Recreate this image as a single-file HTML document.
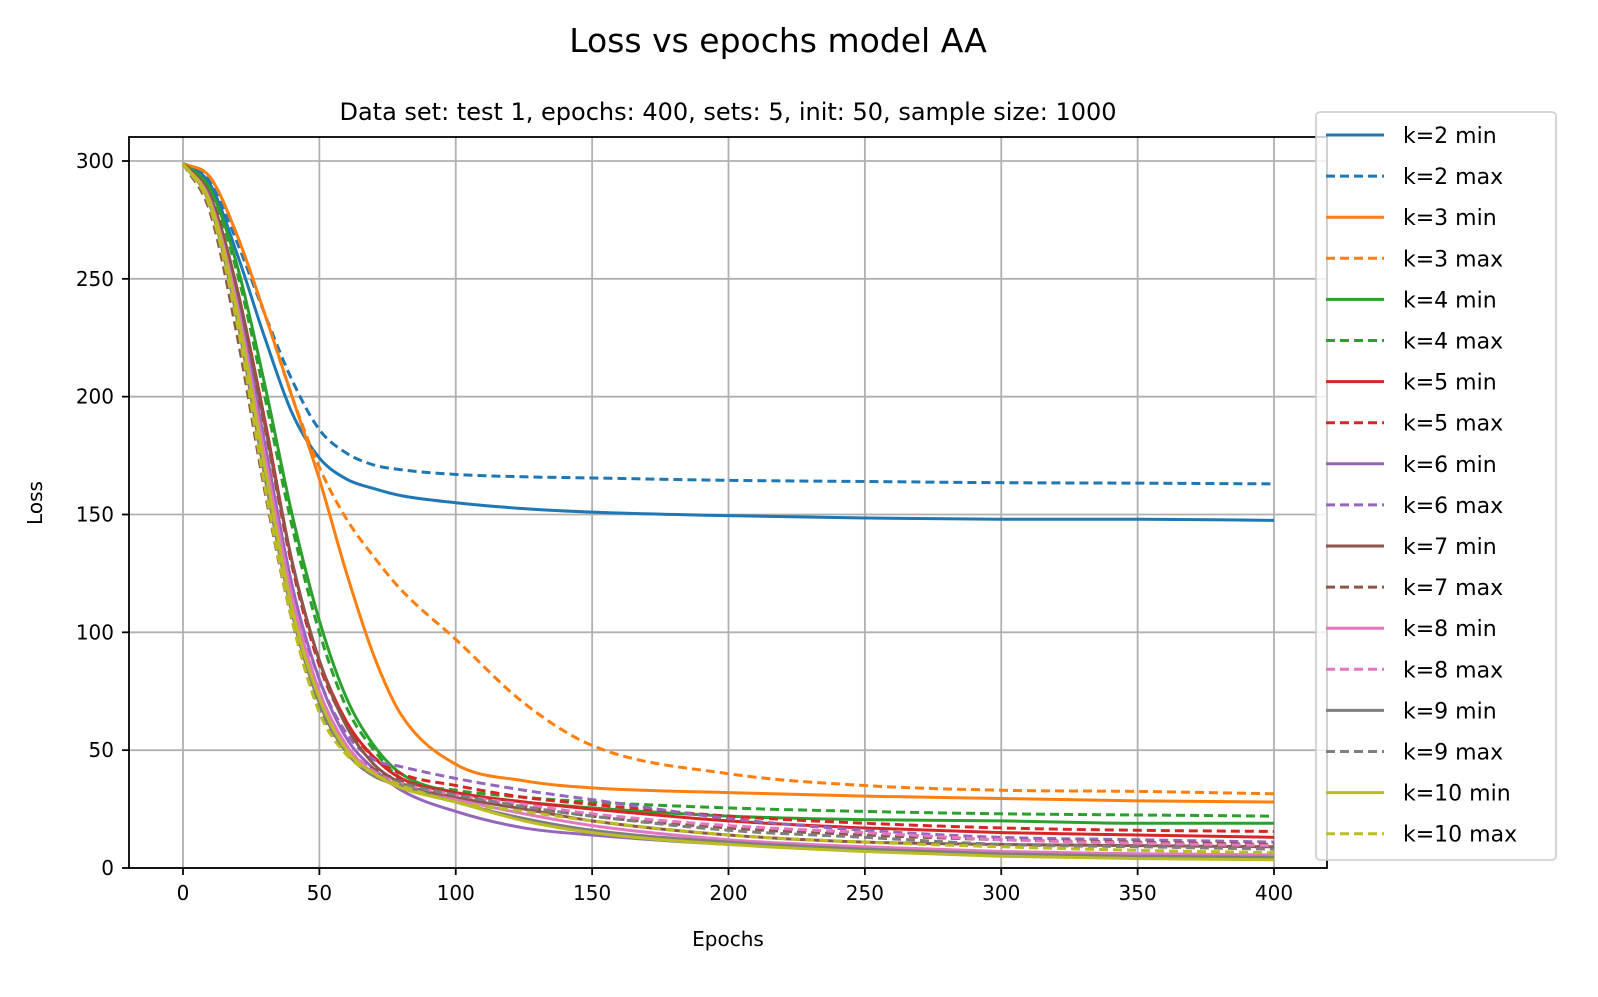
<!DOCTYPE html>
<html><head><meta charset="utf-8"><style>
body{margin:0;background:#fff;}
svg text{font-family:"DejaVu Sans","Liberation Sans",sans-serif;fill:#000;}
</style></head><body>
<svg id="chart" width="1598" height="992" viewBox="0 0 1598 992" xmlns="http://www.w3.org/2000/svg">
<rect width="1598" height="992" fill="#fff"/>
<text x="778" y="52" font-size="33" text-anchor="middle">Loss vs epochs model AA</text>
<text x="728" y="120" font-size="24" text-anchor="middle">Data set: test 1, epochs: 400, sets: 5, init: 50, sample size: 1000</text>
<g id="grid"></g>
<g id="series"></g>
<rect x="129" y="137" width="1198" height="731" fill="none" stroke="#000" stroke-width="1.8"/>
<g id="ticks"></g>
<text x="728" y="946" font-size="20" text-anchor="middle">Epochs</text>
<text x="42" y="503" font-size="20" text-anchor="middle" transform="rotate(-90 42 503)">Loss</text>
<g id="legend"></g>
</svg>
<script>
const epochs=[0,10,20,30,40,50,60,70,80,100,125,150,200,250,300,350,400];
const xTicks=[0,50,100,150,200,250,300,350,400];
const yTicks=[0,50,100,150,200,250,300];
const labels=["k=2 min","k=2 max","k=3 min","k=3 max","k=4 min","k=4 max","k=5 min","k=5 max","k=6 min","k=6 max","k=7 min","k=7 max","k=8 min","k=8 max","k=9 min","k=9 max","k=10 min","k=10 max"];
const colors=["#1f77b4","#ff7f0e","#2ca02c","#d62728","#9467bd","#8c564b","#e377c2","#7f7f7f","#bcbd22"];
const k2min=[299,290,260,225,193,174,165,161,158,155,152.5,151,149.5,148.5,148,148,147.5];
const k2max=[299,292,265,235,207,186,176,171,169,167,166,165.5,164.5,164,163.5,163.3,163];
const k3min=[299,293,268,235,200,165,125,90,65,44,37,34,32,30.5,29.5,28.5,28];
const k3max=[299,293,268,235,200,170,148,132,118,97,70,52,40,35,33,32.5,31.5];
const k4min=[299,288,255,205,150,105,72,52,40,32,28,25.5,22,20.5,20,19,19];
const k4max=[299,287,252,200,145,100,68,50,38,33,30,28,25.5,24,23,22.5,22];
const k5min=[299,285,245,190,130,88,62,47,38,32,28,25,20,17,15,14,13];
const k5max=[299,284,243,187,128,86,61,47,40,35,30,27,22,19,17,16,15.5];
const k6min=[299,283,240,180,120,80,55,42,33,24,17,14,10,8,6.5,6,5.5];
const k6max=[299,282,238,178,118,80,57,46,43,38,33,29,21,16,13,12,11];
const k7min=[299,285,245,188,130,88,60,44,36,30,25,20,14,11,10,9.5,9];
const k7max=[299,278,225,160,105,68,50,42,37,31,26,22,17,14,12,11,10];
const k8min=[299,283,238,175,115,75,52,40,34,29,23,18,12,9,7,6,5.5];
const k8max=[299,281,234,170,112,73,52,41,36,31,27,23,18,15,12,10.5,9.5];
const k9min=[299,281,232,166,108,70,49,39,35,28,21,16,11,8,6,5,4.5];
const k9max=[299,280,230,164,106,68,49,40,36,31,26,22,16,13,10,9,8];
const k10min=[299,282,235,170,110,72,50,40,34,28,20,15,10,7,5,4,3.5];
const k10max=[299,280,230,162,105,66,48,40,35,28,24,20,14,11,9,7.5,6.5];
const allSeries=[k2min,k2max,k3min,k3max,k4min,k4max,k5min,k5max,k6min,k6max,k7min,k7max,k8min,k8max,k9min,k9max,k10min,k10max];

const NS="http://www.w3.org/2000/svg";
const X=v=>183+v*(1274-183)/400;
const Y=v=>868-v*(868-161)/300;
function el(t,a,p){const e=document.createElementNS(NS,t);for(const k in a)e.setAttribute(k,a[k]);p.appendChild(e);return e;}
const grid=document.getElementById('grid'),ticks=document.getElementById('ticks');
xTicks.forEach(t=>{
  const g=el('line',{x1:X(t),x2:X(t),y1:137,y2:868,stroke:'#b0b0b0','stroke-width':1.8},grid);
  
  
  const tk=el('line',{x1:X(t),x2:X(t),y1:868,y2:875,stroke:'#000','stroke-width':1.8},ticks);
  
  
  const tx=el('text',{x:X(t),y:900,'font-size':20,'text-anchor':'middle'},ticks);tx.textContent=t;
  
  
});
yTicks.forEach(t=>{
  const g=el('line',{x1:129,x2:1327,y1:Y(t),y2:Y(t),stroke:'#b0b0b0','stroke-width':1.8},grid);
  
  
  const tk=el('line',{x1:122,x2:129,y1:Y(t),y2:Y(t),stroke:'#000','stroke-width':1.8},ticks);
  
  
  const tx=el('text',{x:114,y:Y(t)+7,'font-size':20,'text-anchor':'end'},ticks);tx.textContent=t;
  
  
});
function monoPath(xs,ys){
  const n=xs.length,d=[],m=[];
  for(let i=0;i<n-1;i++)d.push((ys[i+1]-ys[i])/(xs[i+1]-xs[i]));
  m[0]=d[0];m[n-1]=d[n-2];
  for(let i=1;i<n-1;i++){m[i]=(d[i-1]*d[i]<=0)?0:(d[i-1]+d[i])/2;}
  for(let i=0;i<n-1;i++){if(d[i]===0){m[i]=m[i+1]=0;continue;}const a=m[i]/d[i],b=m[i+1]/d[i],s=a*a+b*b;if(s>9){const t=3/Math.sqrt(s);m[i]=t*a*d[i];m[i+1]=t*b*d[i];}}
  let p='M'+X(xs[0])+','+Y(ys[0]);
  for(let i=0;i<n-1;i++){const h=xs[i+1]-xs[i];
    p+=' C'+X(xs[i]+h/3)+','+Y(ys[i]+m[i]*h/3)+' '+X(xs[i+1]-h/3)+','+Y(ys[i+1]-m[i+1]*h/3)+' '+X(xs[i+1])+','+Y(ys[i+1]);}
  return p;
}
const sg=document.getElementById('series'),lg=document.getElementById('legend');
allSeries.forEach((s,i)=>{
  const c=colors[Math.floor(i/2)],dash=i%2?'9,5':'none';
  const p=el('path',{d:monoPath(epochs,s),fill:'none',stroke:c,'stroke-width':3,'stroke-dasharray':dash},sg);
  
  
});
const box=el('rect',{x:1316,y:112,width:240,height:748,rx:4,fill:'#fff','fill-opacity':0.8,stroke:'#ccc','stroke-width':1.6},lg);


labels.forEach((l,i)=>{
  const y=135+i*41.1,c=colors[Math.floor(i/2)];
  const ln=el('line',{x1:1326,x2:1384,y1:y,y2:y,stroke:c,'stroke-width':3,'stroke-dasharray':i%2?'9,5':'none'},lg);
  
  
  const t=el('text',{x:1403,y:y+8,'font-size':22},lg);t.textContent=l;
  
  
});
</script>
</body></html>
